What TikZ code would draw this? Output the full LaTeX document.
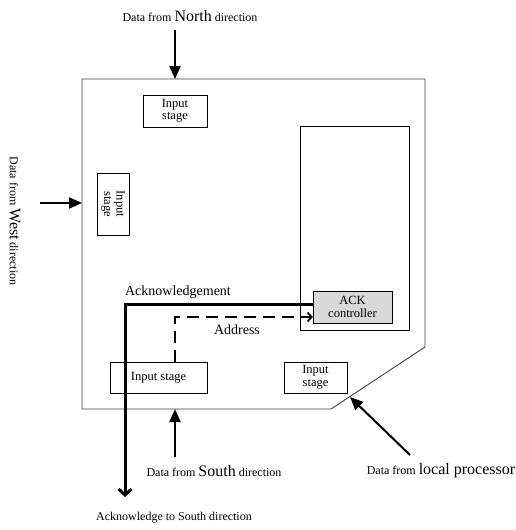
\documentclass[tikz,border=0pt]{standalone}
\usepackage{fontspec}
\setmainfont{Liberation Serif}
\usetikzlibrary{arrows.meta}

\tikzset{
  stagebox/.style={draw, inner sep=0pt, align=center, font=\fontsize{12.5}{12.5}\selectfont},
  inarrow/.style={line width=2pt, -{Triangle[length=13pt,width=11pt]}},
  lbl/.style={inner sep=0pt, font=\fontsize{12}{12}\selectfont},
  biglbl/.style={inner sep=0pt, font=\fontsize{14}{14}\selectfont},
}
\newcommand{\bigword}[1]{{\fontsize{16}{16}\selectfont #1}}

\begin{document}
\begin{tikzpicture}[x=1pt,y=-1pt]
\useasboundingbox (0,0) rectangle (515,530);

% router outline
\draw[line width=0.9pt, black!75] (82,79) -- (425,79) -- (425,347) -- (331,409) -- (82,409) -- cycle;

% input stages
\node[stagebox, minimum width=64pt, minimum height=32pt] (inN) at (175,111) {Input\\stage};
\node[stagebox, rotate=-90, minimum width=62pt, minimum height=32pt] (inW) at (113,204) {Input\\stage};
\node[stagebox, minimum width=97pt, minimum height=31pt] (inS) at (158.5,377.5) {Input stage};
\node[stagebox, minimum width=63pt, minimum height=31pt] (inL) at (315.5,377.5) {Input\\stage};

% controller block
\node[draw, minimum width=109pt, minimum height=204pt] (ctrl) at (354.5,228) {};
\node[stagebox, fill=black!15, minimum width=79pt, minimum height=32pt] (ack) at (352.5,307) {ACK\\controller};

% acknowledgement and address
\coordinate (ackend) at (125,497);
\draw[line width=3pt, -{Straight Barb[length=6pt,width=13pt]}] ([yshift=3pt]ack.west) -| (ackend);
\node[biglbl] (acklbl) at (178,292) {Acknowledgement};
\draw[line width=1.8pt, dash pattern=on 12pt off 7pt, -{Straight Barb[length=4pt,width=9pt]}]
  ([xshift=16.5pt]inS.north) |- ([yshift=-10pt]ack.west);
\node[biglbl] (addrlbl) at (237,330) {Address};

% incoming data
\coordinate (edgeN) at (175,79);
\coordinate (edgeW) at (82,203);
\coordinate (edgeS) at (175,409);
\coordinate (edgeL) at (350,397);
\coordinate (fromN) at (175,30);
\coordinate (fromW) at (40,203);
\coordinate (fromS) at (175,457);
\coordinate (fromL) at (410,455);
\draw[inarrow] (fromN) -- (edgeN);
\draw[inarrow] (fromW) -- (edgeW);
\draw[inarrow] (fromS) -- (edgeS);
\draw[inarrow] (fromL) -- (edgeL);

\node[lbl] (lblN) at (190,16) {Data from \bigword{North} direction};
\node[lbl, rotate=-90] (lblW) at (15,221) {Data from \bigword{West} direction};
\node[lbl] (lblS) at (214,471) {Data from \bigword{South} direction};
\node[lbl] (lblL) at (441,471) {Data from \bigword{local processor}};
\node[lbl] (lblA) at (174,518) {Acknowledge to South direction};

\end{tikzpicture}
\end{document}
